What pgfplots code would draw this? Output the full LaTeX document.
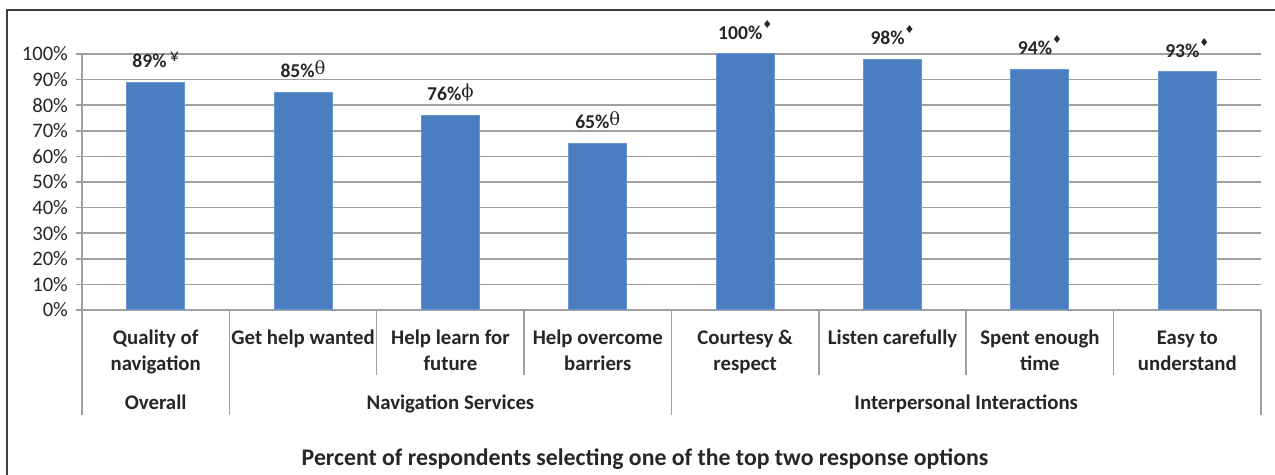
\documentclass[border=0pt]{standalone}
\usepackage{pgfplots}
\pgfplotsset{compat=1.18}
\usepackage{fontspec}
\setmainfont{Carlito}
\newfontfamily\symfont{DejaVu Sans}
\newfontfamily\grkfont{DejaVu Serif}
\definecolor{barblue}{RGB}{74,126,193}
\definecolor{baredge}{RGB}{105,150,208}
\definecolor{gridgray}{RGB}{160,160,160}
\definecolor{framegray}{RGB}{60,60,60}
\newcommand{\dia}{\raisebox{0.55em}{\symfont\mdseries\fontsize{5.5}{6}\selectfont ♦}}
\newcommand{\grk}[1]{\raisebox{0.18em}{\grkfont\mdseries\fontsize{9}{9}\selectfont #1}}
\newcommand{\yen}{\raisebox{0.32em}{\mdseries\fontsize{9}{9}\selectfont ¥}}
\begin{document}
\begin{tikzpicture}
\begin{axis}[
  at={(41pt,-155pt)}, anchor=south west,
  scale only axis, width=589.5pt, height=128pt,
  xmin=-0.5, xmax=7.5, ymin=0, ymax=100,
  clip=false,
  ybar, bar width=29pt,
  ytick={0,10,...,100},
  yticklabel={\pgfmathprintnumber{\tick}\%},
  /pgf/number format/assume math mode=true,
  ymajorgrids, grid style={gridgray, line width=0.75pt},
  axis x line=bottom, axis y line=left,
  axis line style={gridgray, line width=0.75pt, -},
  y tick style={gridgray, line width=0.75pt},
  x tick style={draw=none},
  tick align=outside, major tick length=3pt,
  yticklabel style={font=\fontsize{10.3}{12}\selectfont, color=black!85, xshift=-0.5pt},
  xtick={0,...,7},
  xticklabels={{\strut Quality of\\navigation},{\strut Get help wanted},{\strut Help learn for\\future},{\strut Help overcome\\barriers},{\strut Courtesy \&\\respect},{\strut Listen carefully},{\strut Spent enough\\time},{\strut Easy to\\understand}},
  xticklabel style={font=\bfseries\fontsize{10.4}{12.6}\selectfont, align=center, anchor=north, inner sep=0pt, color=black!85, yshift=-5.4pt},
  point meta=explicit symbolic,
  nodes near coords={\pgfplotspointmeta},
  nodes near coords style={font=\bfseries\fontsize{9.8}{11}\selectfont, anchor=south, inner sep=0pt, yshift=7pt, color=black!85},
]
\addplot[fill=barblue, draw=baredge, line width=0.5pt] coordinates {
  (0,89) [89\%\,\yen]
  (1,85) [85\%\grk{θ}]
  (2,76) [76\%\grk{ϕ}]
  (3,65) [65\%\grk{θ}]
  (4,100) [100\%\dia]
  (5,98) [98\%\dia]
  (6,94) [94\%\dia]
  (7,93) [93\%\dia]
};
\draw[gridgray, line width=0.75pt] (axis cs:-0.5,0) -- ([yshift=-52.5pt]axis cs:-0.5,0);
\draw[gridgray, line width=0.75pt] (axis cs:0.5,0) -- ([yshift=-52.5pt]axis cs:0.5,0);
\draw[gridgray, line width=0.75pt] (axis cs:3.5,0) -- ([yshift=-52.5pt]axis cs:3.5,0);
\draw[gridgray, line width=0.75pt] (axis cs:7.5,0) -- ([yshift=-52.5pt]axis cs:7.5,0);
\draw[gridgray, line width=0.75pt] (axis cs:1.5,0) -- ([yshift=-32.5pt]axis cs:1.5,0);
\draw[gridgray, line width=0.75pt] (axis cs:2.5,0) -- ([yshift=-32.5pt]axis cs:2.5,0);
\draw[gridgray, line width=0.75pt] (axis cs:4.5,0) -- ([yshift=-32.5pt]axis cs:4.5,0);
\draw[gridgray, line width=0.75pt] (axis cs:5.5,0) -- ([yshift=-32.5pt]axis cs:5.5,0);
\draw[gridgray, line width=0.75pt] (axis cs:6.5,0) -- ([yshift=-32.5pt]axis cs:6.5,0);
\node[anchor=base, yshift=-49.75pt, font=\bfseries\fontsize{10.4}{12}\selectfont, color=black!85] at (axis cs:0,0) {Overall};
\node[anchor=base, yshift=-49.75pt, font=\bfseries\fontsize{10.4}{12}\selectfont, color=black!85] at (axis cs:2,0) {Navigation Services};
\node[anchor=base, yshift=-49.75pt, font=\bfseries\fontsize{10.4}{12}\selectfont, color=black!85] at (axis cs:5.5,0) {Interpersonal Interactions};
\end{axis}
\node[anchor=base, font=\bfseries\fontsize{11.9}{14}\selectfont, color=black!85] at (322.5pt,-233pt) {Percent of respondents selecting one of the top two response options};
\draw[framegray, line width=1pt] (3.5pt,-237.5pt) -- (3.5pt,-5pt) -- (637.5pt,-5pt);
\pgfresetboundingbox
\path[use as bounding box] (0,0) rectangle (637.5pt,-237.5pt);
\end{tikzpicture}
\end{document}
